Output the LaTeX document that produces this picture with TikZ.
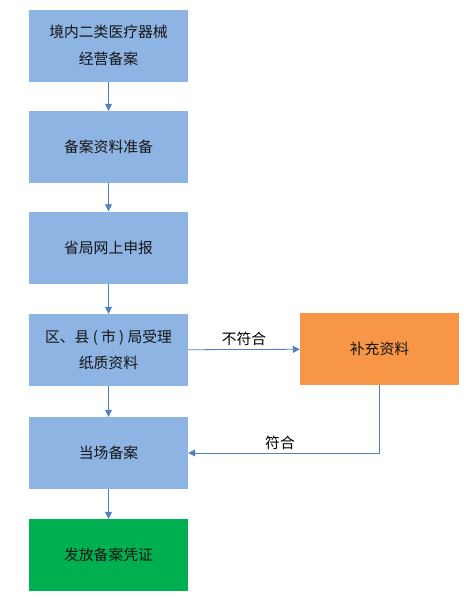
\documentclass[tikz,border=0pt]{standalone}
\usepackage{fontspec}
\usepackage{tikz}
\usetikzlibrary{arrows.meta}
\setmainfont{Noto Sans CJK SC}
\definecolor{stepblue}{RGB}{142, 180, 227}
\definecolor{steporange}{RGB}{247, 150, 70}
\definecolor{stepgreen}{RGB}{0, 176, 80}
\definecolor{flowblue}{RGB}{79, 129, 189}
\definecolor{textdark}{RGB}{20, 20, 20}

\begin{document}
\begin{tikzpicture}[x=1pt, y=-1pt,
    stepbox/.style={fill=stepblue, minimum width=159pt, minimum height=72pt,
        inner sep=0pt, align=center, text=textdark,
        font=\fontsize{14.8}{27}\selectfont},
    flow/.style={draw=flowblue, thick, -{Triangle[width=7pt, length=7pt]}},
    flowlabel/.style={text=black, font=\fontsize{14.8}{16}\selectfont}]
    \useasboundingbox (0,0) rectangle (472,597);

    % Main column
    \node[stepbox] (record) at (108.5,45.5) {境内二类医疗器械\\经营备案};
    \node[stepbox] (prepare) at (108.5,147) {备案资料准备};
    \node[stepbox] (online) at (108.5,247.5) {省局网上申报};
    \node[stepbox, font=\fontsize{14.8}{26}\selectfont] (accept) at (108.5,350) {区、县 ( 市 ) 局受理\\纸质资料};
    \node[stepbox] (onsite) at (108.5,453) {当场备案};
    \node[stepbox, fill=stepgreen] (issue) at (108.5,555) {发放备案凭证};

    % Side branch
    \node[stepbox, fill=steporange] (supply) at (379.5,349) {补充资料};

    % Connectors
    \draw[flow] (record) -- (prepare);
    \draw[flow] (prepare) -- (online);
    \draw[flow] (online) -- (accept);
    \draw[flow] (accept) -- (onsite);
    \draw[flow] (onsite) -- (issue);
    \draw[flow] (accept) -- node[flowlabel, above] {不符合} (supply);
    \draw[flow] (supply) |- node[flowlabel, above, pos=0.76] {符合} (onsite);
\end{tikzpicture}
\end{document}
